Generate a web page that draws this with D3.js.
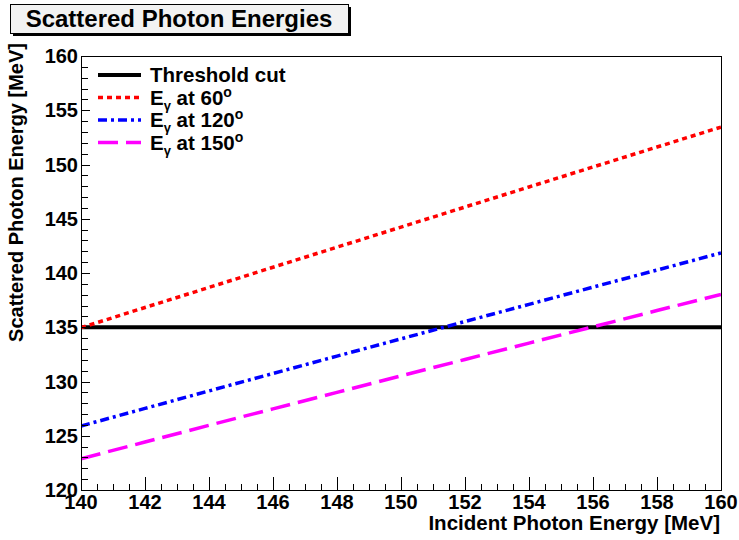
<!DOCTYPE html>
<html>
<head>
  <meta charset="utf-8">
  <script src="https://d3js.org/d3.v7.min.js"></script>
  <style>
    body { margin: 0; background: #fff; }
    text { font-family: "Liberation Sans", Arial, Helvetica, sans-serif; font-weight: bold; fill: #000; }
  </style>
</head>
<body>
<div id="chart"></div>
<script>
  // incident photon energy (MeV)
  const incident = [140, 142, 144, 146, 148, 150, 152, 154, 156, 158, 160]
  // scattered photon energy (MeV)
  const e60 = [134.96, 136.82, 138.67, 140.53, 142.38, 144.23, 146.08, 147.93, 149.77, 151.61, 153.45]
  const e120 = [125.90, 127.52, 129.13, 130.74, 132.34, 133.93, 135.53, 137.11, 138.70, 140.27, 141.85]
  const e150 = [122.88, 124.42, 125.96, 127.48, 129.00, 130.52, 132.03, 133.54, 135.04, 136.54, 138.03]
  const threshold = 135
  const xTicks = [140, 142, 144, 146, 148, 150, 152, 154, 156, 158, 160]
  const yTicks = [120, 125, 130, 135, 140, 145, 150, 155, 160]

  const width = 739
  const height = 540
  const frame = { left: 81, right: 721, top: 56, bottom: 490 }

  const svg = d3.select("#chart").append("svg")
    .attr("width", width)
    .attr("height", height)

  const x = d3.scaleLinear().domain([140, 160]).range([frame.left, frame.right])
  const y = d3.scaleLinear().domain([120, 160]).range([frame.bottom, frame.top])

  // title box with shadow
  svg.append("rect").attr("x", 13).attr("y", 7).attr("width", 338).attr("height", 29).attr("fill", "#000")
  svg.append("rect").attr("x", 10.5).attr("y", 4.5).attr("width", 338).attr("height", 29)
    .attr("fill", "#f2f2f2").attr("stroke", "#000").attr("stroke-width", 1)
  svg.append("text").attr("x", 179).attr("y", 27).attr("text-anchor", "middle")
    .style("font-size", "24px").text("Scattered Photon Energies")

  svg.append("clipPath").attr("id", "clip").append("rect")
    .attr("x", frame.left).attr("y", frame.top)
    .attr("width", frame.right - frame.left).attr("height", frame.bottom - frame.top)

  const series = [
    { name: "60", values: e60, color: "#ff0000", dash: "5,4" },
    { name: "120", values: e120, color: "#0000ff", dash: "9,4,3,4" },
    { name: "150", values: e150, color: "#ff00ff", dash: "20,8" }
  ]

  const line = d3.line().x(d => x(d[0])).y(d => y(d[1]))
  const plot = svg.append("g").attr("clip-path", "url(#clip)")

  plot.append("path")
    .attr("d", line([[140, threshold], [160, threshold]]))
    .attr("stroke", "#000").attr("stroke-width", 4).attr("fill", "none")

  series.forEach(s => {
    plot.append("path")
      .attr("d", line(incident.map((e, i) => [e, s.values[i]])))
      .attr("stroke", s.color).attr("stroke-width", 3.5)
      .attr("stroke-dasharray", s.dash).attr("fill", "none")
  })

  // frame
  svg.append("rect")
    .attr("x", frame.left + 0.5).attr("y", frame.top + 0.5)
    .attr("width", frame.right - frame.left).attr("height", frame.bottom - frame.top)
    .attr("fill", "none").attr("stroke", "#000").attr("stroke-width", 1)

  // x axis ticks (inside the frame)
  const xMinor = d3.range(140, 160.01, 0.5)
  svg.selectAll(".xt").data(xMinor).join("line")
    .attr("x1", d => Math.round(x(d)) + 0.5).attr("x2", d => Math.round(x(d)) + 0.5)
    .attr("y1", frame.bottom)
    .attr("y2", d => frame.bottom - (d % 2 === 0 ? 13 : 6))
    .attr("stroke", "#000")
  svg.selectAll(".xl").data(xTicks).join("text")
    .attr("x", d => x(d)).attr("y", 509).attr("text-anchor", "middle")
    .style("font-size", "20px").text(d => d)

  // y axis ticks
  const yMinor = d3.range(120, 160.01, 1)
  svg.selectAll(".yt").data(yMinor).join("line")
    .attr("y1", d => Math.round(y(d)) + 0.5).attr("y2", d => Math.round(y(d)) + 0.5)
    .attr("x1", frame.left)
    .attr("x2", d => frame.left + (d % 5 === 0 ? 9 : 7))
    .attr("stroke", "#000")
  svg.selectAll(".yl").data(yTicks).join("text")
    .attr("x", 78).attr("y", d => y(d) + 7).attr("text-anchor", "end")
    .style("font-size", "20px").text(d => d)

  // axis titles
  svg.append("text").attr("x", 720).attr("y", 530).attr("text-anchor", "end")
    .style("font-size", "20.5px").text("Incident Photon Energy [MeV]")
  svg.append("text").attr("transform", "translate(23,43) rotate(-90)").attr("text-anchor", "end")
    .style("font-size", "20px").text("Scattered Photon Energy [MeV]")

  // legend
  const legend = svg.append("g")
  const rows = [{ label: "Threshold cut", color: "#000", dash: null, w: 4 }]
    .concat(series.map(s => ({ label: s.name, color: s.color, dash: s.dash, w: 3.5 })))
  rows.forEach((r, i) => {
    const ly = 75 + i * 22.5
    legend.append("line")
      .attr("x1", 98).attr("x2", 141).attr("y1", ly).attr("y2", ly)
      .attr("stroke", r.color).attr("stroke-width", r.w)
      .attr("stroke-dasharray", r.dash)
    const t = legend.append("text").attr("x", 150).attr("y", ly + 7).style("font-size", "20.5px")
    if (i === 0) {
      t.text(r.label)
    } else {
      t.append("tspan").text("E")
      t.append("tspan").attr("dy", 5).style("font-size", "13px").text("γ")
      t.append("tspan").attr("dy", -5).text(" at " + r.label)
      t.append("tspan").attr("dy", -8).style("font-size", "14px").text("o")
    }
  })
</script>
</body>
</html>
